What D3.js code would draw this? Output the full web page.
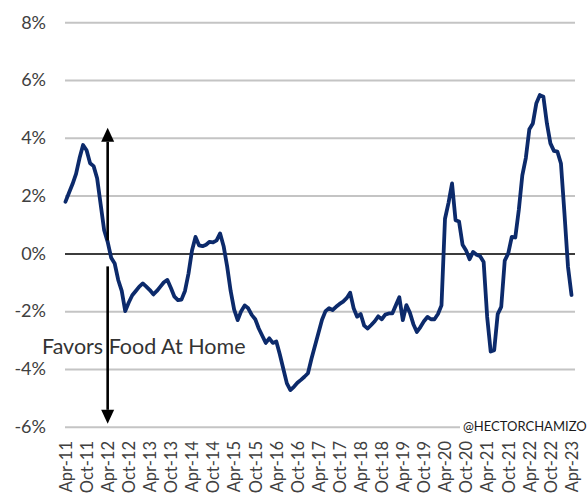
<!DOCTYPE html>
<html><head><meta charset="utf-8">
<script src="https://cdn.jsdelivr.net/npm/d3@7"></script>
<style>body{margin:0;background:#fff;} svg{display:block;}</style>
</head><body>
<svg id="c" width="587" height="495"></svg>
<script>
const tickLabels = ["Apr-11","Oct-11","Apr-12","Oct-12","Apr-13","Oct-13","Apr-14","Oct-14","Apr-15","Oct-15","Apr-16","Oct-16","Apr-17","Oct-17","Apr-18","Oct-18","Apr-19","Oct-19","Apr-20","Oct-20","Apr-21","Oct-21","Apr-22","Oct-22","Apr-23"];
const values = [
 1.79, 2.10, 2.40, 2.75, 3.30, 3.75, 3.57, 3.12, 3.02, 2.60,
 1.70, 0.80, 0.40, -0.15, -0.35, -0.92, -1.30, -2.00, -1.70, -1.45,
 -1.30, -1.15, -1.04, -1.15, -1.27, -1.42, -1.30, -1.15, -1.00, -0.92,
 -1.20, -1.50, -1.62, -1.60, -1.30, -0.70, 0.10, 0.57, 0.28, 0.25,
 0.30, 0.40, 0.38, 0.45, 0.69, 0.25, -0.45, -1.30, -1.95, -2.31,
 -2.00, -1.80, -1.90, -2.13, -2.28, -2.60, -2.85, -3.10, -2.94, -3.10,
 -3.05, -3.50, -4.00, -4.50, -4.73, -4.62, -4.48, -4.38, -4.27, -4.15,
 -3.65, -3.20, -2.75, -2.30, -2.00, -1.90, -1.96, -1.85, -1.75, -1.67,
 -1.55, -1.36, -1.90, -2.19, -2.10, -2.50, -2.60, -2.48, -2.35, -2.18,
 -2.28, -2.12, -2.08, -2.08, -1.80, -1.52, -2.31, -1.79, -2.05, -2.45,
 -2.72, -2.55, -2.35, -2.20, -2.28, -2.28, -2.10, -1.80, 1.20, 1.75,
 2.42, 1.15, 1.10, 0.30, 0.10, -0.20, 0.05, -0.05, -0.10, -0.30,
 -2.20, -3.40, -3.35, -2.10, -1.85, -0.25, 0.00, 0.57, 0.55, 1.50,
 2.70, 3.30, 4.30, 4.50, 5.20, 5.48, 5.42, 4.50, 3.81, 3.55,
 3.52, 3.11, 1.38, -0.46, -1.44
];
const yTicks = [-6, -4, -2, 0, 2, 4, 6, 8];
const annotationText = "Favors Food At Home";
const arrowUp = [0.45, 4.35];
const arrowDown = [-0.45, -5.9];
const arrowIndex = 12;
const watermark = "@HECTORCHAMIZO";

const svg = d3.select("#c");
const x = d3.scaleLinear().domain([0, values.length - 1]).range([65.5, 571.5]);
const y = d3.scaleLinear().domain([-6, 8]).range([426.7, 22.3]);
const gridX0 = 65, gridX1 = 575;
const font = "Lato, 'Open Sans', sans-serif";

const yAxis = d3.axisLeft(y).tickValues(yTicks).tickFormat(d => d + "%")
  .tickSize(-(gridX1 - gridX0)).tickPadding(19);
const gy = svg.append("g").attr("transform", `translate(${gridX0},0)`).call(yAxis);
gy.select(".domain").remove();
gy.selectAll(".tick line")
  .attr("stroke", d => d === 0 ? "#3c3c3c" : "#c4c4c4")
  .attr("stroke-width", 2);
gy.selectAll(".tick text").attr("font-family", font).attr("font-size", 18).attr("fill", "#404040");
gy.selectAll(".tick").filter(d => d === 0).raise();

const xAxis = d3.axisBottom(x).tickValues(tickLabels.map((_, i) => i * 6))
  .tickFormat((d, i) => tickLabels[i]).tickSize(0);
const gx = svg.append("g").attr("transform", "translate(0,441)").call(xAxis);
gx.select(".domain").remove();
gx.selectAll(".tick text")
  .attr("transform", "rotate(-90)").attr("text-anchor", "end")
  .attr("x", 0).attr("y", 0).attr("dy", "0.35em")
  .attr("font-family", font).attr("font-size", 16.5).attr("fill", "#404040");

const line = d3.line().x((d, i) => x(i)).y(d => y(d));
svg.append("path").datum(values).attr("d", line)
  .attr("fill", "none").attr("stroke", "#0c2a6b").attr("stroke-width", 3.8)
  .attr("stroke-linejoin", "round").attr("stroke-linecap", "round");

// annotation text
svg.append("text").attr("x", 42).attr("y", 354).text(annotationText)
  .attr("font-family", font).attr("font-size", 21.5).attr("fill", "#333");

// arrows
const ax = x(arrowIndex);
const head = 14, hw = 6.5;
function arrow(from, to) {
  const y0 = y(from), y1 = y(to);
  const dir = y1 < y0 ? 1 : -1;
  svg.append("line").attr("x1", ax).attr("x2", ax).attr("y1", y0).attr("y2", y1 + dir * head)
    .attr("stroke", "#000").attr("stroke-width", 2.6);
  svg.append("path").attr("d", `M${ax},${y1} L${ax - hw},${y1 + dir * head} L${ax + hw},${y1 + dir * head} Z`)
    .attr("fill", "#000");
}
arrow(arrowUp[0], arrowUp[1]);
arrow(arrowDown[0], arrowDown[1]);

// watermark
svg.append("rect").attr("x", 460).attr("y", 418).attr("width", 127).attr("height", 18).attr("fill", "#fff");
svg.append("text").attr("x", 463).attr("y", y(-6)).attr("dy", "0.35em").text(watermark)
  .attr("font-family", font).attr("font-size", 13).attr("letter-spacing", 0).attr("fill", "#1a1a1a");
</script>
</body></html>
